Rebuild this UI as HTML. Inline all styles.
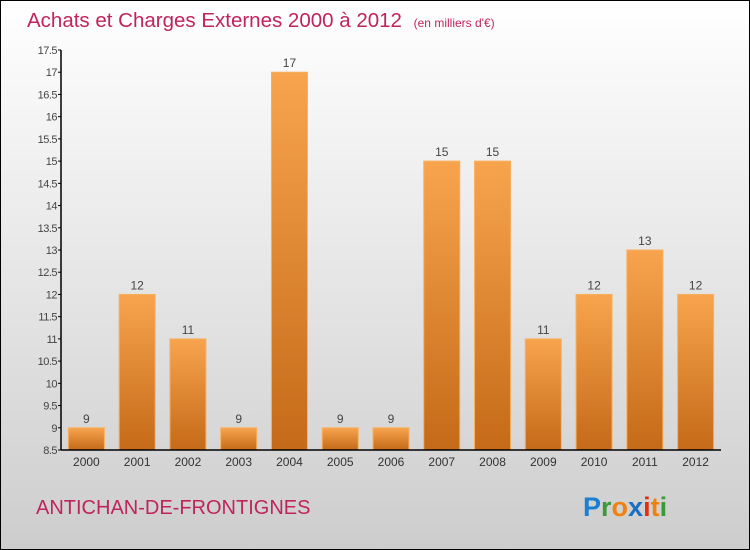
<!DOCTYPE html>
<html><head><meta charset="utf-8"><style>
body{margin:0}
svg{display:block;font-family:"Liberation Sans",sans-serif}
</style></head><body>
<svg width="750" height="550" viewBox="0 0 750 550">
<defs>
<linearGradient id="bg" x1="0" y1="0" x2="0" y2="1"><stop offset="0" stop-color="#ffffff"/><stop offset="1" stop-color="#cdcdcd"/></linearGradient>
<linearGradient id="bar" x1="0" y1="0" x2="0" y2="1"><stop offset="0" stop-color="#f8a44e"/><stop offset="1" stop-color="#c46a18"/></linearGradient>
</defs>
<rect x="0.5" y="0.5" width="749" height="549" fill="url(#bg)" stroke="#000"/>
<text x="27" y="27" font-size="20.5" fill="#c0245c">Achats et Charges Externes 2000 à 2012 <tspan font-size="12" dx="6">(en milliers d'€)</tspan></text>
<g id="grid"></g>
<g id="bars"></g>
<g id="axes"></g>
<text x="36" y="514" font-size="20" fill="#c0245c">ANTICHAN-DE-FRONTIGNES</text>
<g font-size="27" font-weight="bold" font-family="'Liberation Sans',sans-serif">
<text x="583" y="516"><tspan fill="#1a7fd0">P</tspan><tspan fill="#3a9a3a">r</tspan><tspan fill="#f08010">o</tspan><tspan fill="#1a6fc0">x</tspan><tspan fill="#e03010">i</tspan><tspan fill="#f08010">t</tspan><tspan fill="#3a9a3a">i</tspan></text>
</g>
</svg>
<script>
const categories=["2000","2001","2002","2003","2004","2005","2006","2007","2008","2009","2010","2011","2012"];
const values=[9,12,11,9,17,9,9,15,15,11,12,13,12];
const ticks=[8.5,9,9.5,10,10.5,11,11.5,12,12.5,13,13.5,14,14.5,15,15.5,16,16.5,17,17.5];
const NS="http://www.w3.org/2000/svg";
const x0=61,x1=721,yTop=50,yBot=450,vMin=8.5,vMax=17.5;
const bw=(x1-x0)/categories.length;
function y(v){return yBot-(v-vMin)/(vMax-vMin)*(yBot-yTop);}
function xc(i){return x0+bw*(i+0.5);}
function mk(tag,attrs,parent,txt){const e=document.createElementNS(NS,tag);for(const k in attrs)e.setAttribute(k,attrs[k]);if(txt!==undefined)e.textContent=txt;parent.appendChild(e);return e;}
const bars=document.getElementById('bars'),axes=document.getElementById('axes');
values.forEach((v,i)=>{
 const r=mk('rect',{x:xc(i)-18,y:y(v),width:36,height:yBot-y(v),fill:'url(#bar)',stroke:'#f7b060','stroke-width':1},bars);
 
 
 const t=mk('text',{x:xc(i),y:y(v)-5,'text-anchor':'middle','font-size':12,fill:'#444'},bars,String(v));
 
 
 const c=mk('text',{x:xc(i),y:466,'text-anchor':'middle','font-size':12,fill:'#333'},axes,categories[i]);
 
 
});
ticks.forEach(t=>{
 mk('line',{x1:x0-3,x2:x0,y1:y(t),y2:y(t),stroke:'#000'},axes);
 const l=mk('text',{x:x0-4,y:y(t)+4,'text-anchor':'end','font-size':11,fill:'#444','letter-spacing':'-0.5'},axes,String(t));
 
 
});
const ya=mk('line',{x1:x0,x2:x0,y1:yTop,y2:yBot,stroke:'#000','stroke-width':1.5},axes);


const xa=mk('line',{x1:x0,x2:x1,y1:yBot,y2:yBot,stroke:'#000','stroke-width':1.5},axes);


</script>
</body></html>
